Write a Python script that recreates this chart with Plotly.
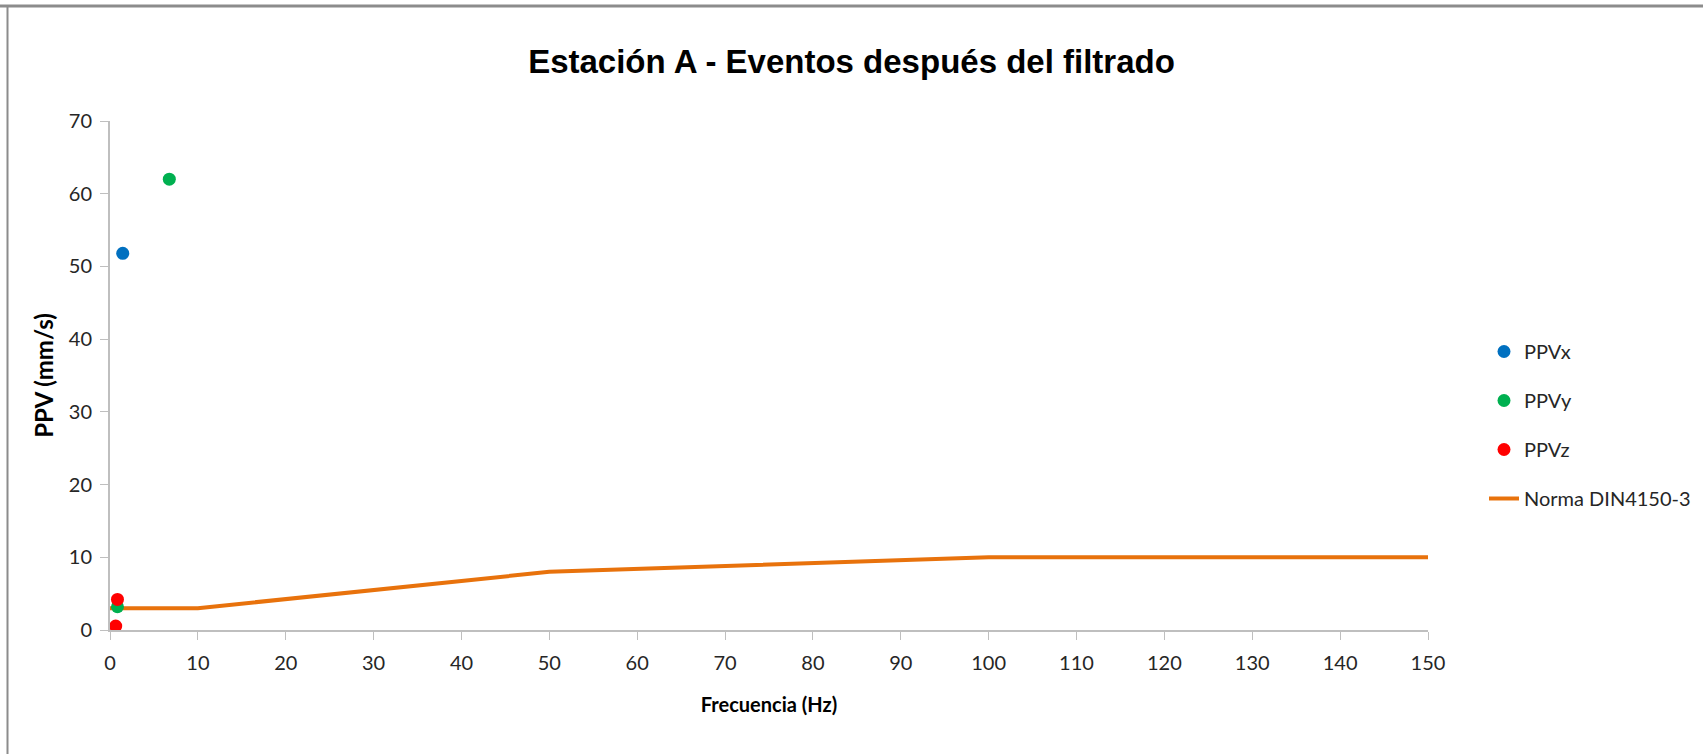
import plotly.graph_objects as go

# Peak particle velocity events (frequency in Hz, PPV in mm/s)
ppvx_freq = [1.45]
ppvx_val = [51.8]
ppvy_freq = [6.75, 0.85]
ppvy_val = [62.0, 3.2]
ppvz_freq = [0.65, 0.85]
ppvz_val = [0.55, 4.2]

# DIN 4150-3 limit curve
din_freq = [0, 10, 50, 100, 150]
din_val = [3, 3, 8, 10, 10]

x_ticks = list(range(0, 151, 10))
y_ticks = list(range(0, 71, 10))

W, H = 1703, 754
ML, MR, MT, MB = 110, 0, 121, 124
PW, PH = W - ML - MR, H - MT - MB
X_END = 1428  # right edge of the x axis in pixels

tick_font = dict(family="Lato, sans-serif", size=20, color="#262626")
axis_col = "#bfbfbf"

fig = go.Figure()
fig.add_trace(go.Scatter(x=din_freq, y=din_val, mode="lines", name="Norma DIN4150-3",
                         line=dict(color="#E8720C", width=4), legendgroup="d", legendrank=4))
fig.add_trace(go.Scatter(x=ppvx_freq, y=ppvx_val, mode="markers", name="PPVx",
                         marker=dict(color="#0070C0", size=13), legendgroup="x", legendrank=1))
fig.add_trace(go.Scatter(x=ppvy_freq, y=ppvy_val, mode="markers", name="PPVy",
                         marker=dict(color="#00B050", size=13), legendgroup="y", legendrank=2))
fig.add_trace(go.Scatter(x=ppvz_freq, y=ppvz_val, mode="markers", name="PPVz",
                         marker=dict(color="#FF0000", size=13), legendgroup="z", legendrank=3))


def px_x(p):
    return (p - ML) / PW


def px_y(p):
    return (H - MB - p) / PH


fig.update_layout(
    width=W, height=H,
    margin=dict(l=ML, r=MR, t=MT, b=MB, autoexpand=False),
    paper_bgcolor="white", plot_bgcolor="white",
    title=dict(text="<b>Estación A - Eventos después del filtrado</b>",
               x=0.5, xanchor="center", y=1 - 61 / H, yanchor="middle",
               font=dict(family="Liberation Sans, Arial, sans-serif", size=33, color="#000000")),
    xaxis=dict(domain=[0, px_x(X_END)], range=[0, 150], tickvals=x_ticks, ticks="outside", ticklen=8,
               tickcolor=axis_col, showline=True, linecolor=axis_col, linewidth=2, showgrid=False,
               zeroline=False, tickfont=tick_font, ticklabelstandoff=6,
               title=dict(text="<b>Frecuencia (Hz)</b>", standoff=25,
                          font=dict(family="Lato, sans-serif", size=20, color="#000"))),
    yaxis=dict(range=[0, 70], tickvals=y_ticks, ticks="outside", ticklen=8, tickcolor=axis_col,
               showline=True, linecolor=axis_col, linewidth=2, showgrid=False, zeroline=False,
               tickfont=tick_font, ticklabelstandoff=4,
               title=dict(text="<b>PPV (mm/s)</b>", standoff=8,
                          font=dict(family="Lato, sans-serif", size=24, color="#000"))),
    legend=dict(x=px_x(1484), y=px_y(332), xanchor="left", yanchor="top",
                traceorder="grouped", tracegroupgap=20,
                font=dict(family="Lato, sans-serif", size=20, color="#262626"),
                bgcolor="rgba(0,0,0,0)"),
    shapes=[
        dict(type="line", xref="paper", yref="paper", x0=px_x(0), x1=px_x(W), y0=px_y(6), y1=px_y(6),
             line=dict(color="#8c8c8c", width=3)),
        dict(type="line", xref="paper", yref="paper", x0=px_x(7.5), x1=px_x(7.5), y0=px_y(5), y1=px_y(H),
             line=dict(color="#8c8c8c", width=2)),
    ],
)

fig.write_html("out.html")
